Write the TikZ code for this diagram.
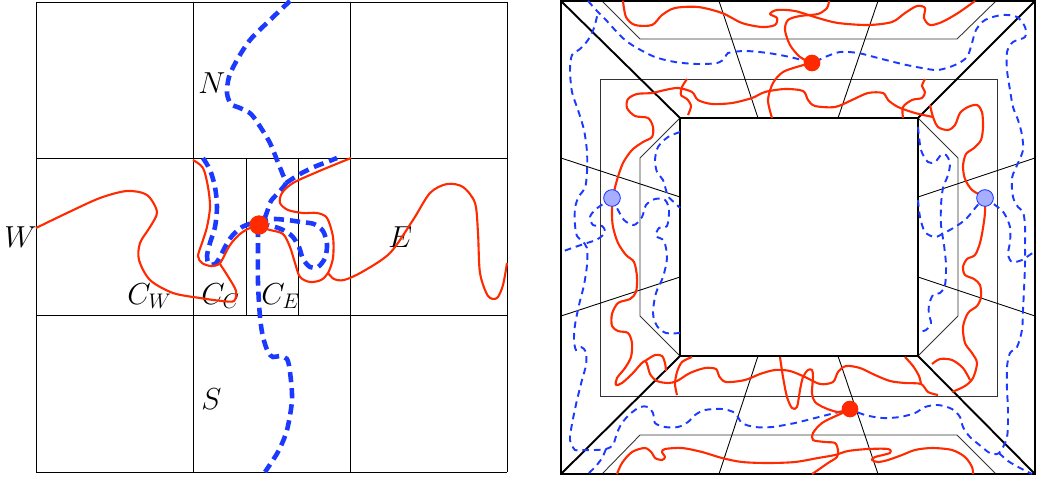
\documentclass[tikz,border=0pt]{standalone}
\usepackage{tikz}
\definecolor{curvered}{RGB}{255,42,0}
\definecolor{curveblue}{RGB}{28,58,255}
\definecolor{dotblue}{RGB}{168,174,255}

\begin{document}
\begin{tikzpicture}[
  x=0.02cm, y=-0.02cm,
  font=\fontsize{17.28}{20}\selectfont,
  cellline/.style={draw=black, line width=0.5pt},
  frame/.style={draw=black, line width=1.4pt},
  wall/.style={draw=black, line width=1.1pt},
  fineline/.style={draw=black!80, line width=0.5pt},
  redpath/.style={draw=curvered, line width=1.2pt, line join=round},
  bluepath/.style={draw=curveblue, line width=2.6pt, dash pattern=on 5.8pt off 3.4pt},
  bluefine/.style={draw=curveblue, line width=1.1pt, dash pattern=on 3.8pt off 2.8pt},
  pinred/.style={circle, fill=curvered, inner sep=0pt, minimum size=11pt},
  pinredsmall/.style={circle, fill=curvered, inner sep=0pt, minimum size=9.5pt},
  pinblue/.style={circle, draw=curveblue, fill=dotblue, line width=0.5pt, inner sep=0pt, minimum size=9.5pt},
  letter/.style={anchor=base west, inner sep=0pt}
]
\useasboundingbox (0,0) rectangle (1038,477);

% left panel: cells
\foreach \x in {36,193,350,507} \draw[cellline] (\x,2) -- (\x,472);
\foreach \y in {2,158,315,472} \draw[cellline] (36,\y) -- (507,\y);
\foreach \x in {246,298} \draw[cellline] (\x,158) -- (\x,315);

\node[letter] (labN) at (198,93) {$N$};
\node[letter] (labS) at (201,409) {$S$};
\node[letter] (labW) at (4,247) {$W$};
\node[letter] (labE) at (388,247) {$E$};
\node[letter] (labCW) at (127,304) {$C_W$};
\node[letter] (labCC) at (201,304) {$C_C$};
\node[letter] (labCE) at (261,304) {$C_E$};

% left panel: dashed paths
\draw[bluepath] plot[smooth] coordinates {(290,1) (270,20) (250,40) (237,60) (229,77) (227,93) (231,104) (240,108) (251,114) (261,128) (270,143) (277,160) (283,175) (286,183) (279,192) (271,201) (267,212) (264,219) (258,223)};
\draw[bluepath] plot[smooth] coordinates {(286,183) (300,174) (314,167) (327,162) (337,158)};
\draw[bluepath] plot[smooth] coordinates {(203,158) (210,170) (215,187) (217,207) (215,227) (210,243) (207,256) (209,264) (215,264) (220,257) (225,247) (232,236) (242,227) (258,221)};
\draw[bluepath] plot[smooth] coordinates {(258,222) (272,219) (287,220) (301,222) (314,224) (323,231) (327,244) (325,258) (318,267) (310,267) (303,259) (299,247) (292,236) (281,229) (268,225)};
\draw[bluepath] plot[smooth] coordinates {(258,227) (258,250) (258,283) (260,317) (263,337) (268,352) (273,357) (280,356) (287,359) (290,372) (292,400) (287,430) (279,450) (271,463) (265,472)};

% left panel: solid paths
\draw[redpath] plot[smooth] coordinates {(36,228) (67,213) (100,198) (127,191) (147,195) (157,212) (150,227) (140,243) (139,260) (150,280) (173,293) (200,298) (222,301) (234,301) (236,291) (229,278) (220,264)};
\draw[redpath] plot[smooth] coordinates {(193,160) (203,168) (208,187) (210,207) (207,227) (202,243) (198,256) (202,263) (211,266) (220,263) (230,245) (240,234) (250,228) (259,227)};
\draw[redpath] plot[smooth] coordinates {(259,227) (270,230) (283,234) (290,247) (295,263) (300,277) (310,282) (321,280) (328,273) (333,258) (333,237) (327,218) (317,213) (303,213) (288,210) (280,203) (282,193) (293,183) (317,172) (351,158)};
\draw[redpath] plot[smooth] coordinates {(328,273) (334,279) (344,280) (362,272) (390,253) (413,220) (430,193) (447,184) (463,187) (475,203) (478,233) (480,273) (488,296) (497,298) (503,285) (507,263)};

\node[pinred] (hub) at (259,225) {};

% right panel: frame
\coordinate (outNW) at (561,1);
\coordinate (outNE) at (1035,1);
\coordinate (outSW) at (561,474);
\coordinate (outSE) at (1035,474);
\coordinate (inNW) at (680,118);
\coordinate (inNE) at (918,118);
\coordinate (inSW) at (680,356);
\coordinate (inSE) at (918,356);

\draw[fineline] (600,79) rectangle (997,396);
\draw[fineline] (602,1) -- (640,39) -- (957,39) -- (996,1);
\draw[fineline] (602,474) -- (640,435) -- (957,435) -- (996,474);
\draw[fineline] (inNW) -- (640,158) -- (640,316) -- (inSW);
\draw[fineline] (inNE) -- (958,158) -- (958,316) -- (inSE);
\draw[cellline] (719,1) -- (758,118);
\draw[cellline] (878,1) -- (838,118);
\draw[cellline] (758,356) -- (719,474);
\draw[cellline] (838,356) -- (878,474);
\draw[cellline] (561,158) -- (680,197);
\draw[cellline] (561,316) -- (680,277);
\draw[cellline] (918,197) -- (1035,158);
\draw[cellline] (918,277) -- (1035,316);
\draw[wall] (outNW) -- (inNW);
\draw[wall] (outNE) -- (inNE);
\draw[wall] (outSW) -- (inSW);
\draw[wall] (outSE) -- (inSE);
\draw[frame] (outNW) rectangle (outSE);
\draw[frame] (inNW) rectangle (inSE);

% right panel: dashed paths
\draw[bluefine] plot[smooth] coordinates {(588,1) (598,12) (606,20) (615,30) (625,40) (637,48) (655,57) (675,62) (697,64) (717,63) (725,58) (728,53) (745,51) (768,53) (790,57) (812,62) (825,57) (840,52) (858,53) (878,58) (902,64) (922,68) (938,70) (955,65) (967,57) (972,43) (976,30) (985,20) (1002,15) (1017,17) (1025,27) (1025,37) (1013,42) (1007,52) (1007,70) (1010,90) (1013,107) (1018,120) (1022,135) (1023,150) (1018,163) (1012,178) (1013,197) (1018,207) (1023,212) (1025,225) (1025,245) (1025,265) (1024,290) (1023,310) (1022,330) (1017,347) (1010,353) (1007,367) (1007,390) (1008,410) (1007,437) (999,453) (990,453) (982,447) (970,437) (963,427) (960,417) (952,409) (938,405) (925,407) (915,413) (900,417) (882,418) (865,415) (850,410) (835,413) (815,418) (795,423) (772,427) (755,427) (742,423) (735,413) (722,409) (705,410) (695,415) (688,422) (678,427) (665,427) (655,423) (653,413) (648,407) (640,407) (630,414) (622,423) (617,433) (613,445) (606,449) (595,450) (582,450) (575,450) (570,440) (572,424) (577,400) (582,380) (586,365) (586,352) (581,347) (576,350) (574,340) (575,325) (579,305) (584,285) (587,265) (587,248) (582,241) (577,236) (575,225) (575,208) (579,196) (585,188) (587,172) (587,152) (584,130) (578,110) (572,92) (570,70) (572,55) (580,49) (588,40) (594,28) (598,12)};
\draw[bluefine] plot[smooth] coordinates {(612,198) (603,204) (595,210) (590,217) (593,225) (602,226) (605,231) (602,236) (596,240) (587,243) (575,247) (561,252)};
\draw[bluefine] plot[smooth] coordinates {(680,132) (668,137) (658,147) (655,160) (657,172) (663,180) (668,196) (675,203) (680,208)};
\draw[bluefine] plot[smooth] coordinates {(612,198) (617,208) (624,220) (634,225) (642,217) (646,205) (655,199) (665,200) (669,210) (667,226) (659,228) (656,236) (664,241) (667,258) (663,277) (656,293) (653,313) (657,326) (666,333) (680,333)};
\draw[bluefine] plot[smooth] coordinates {(918,127) (921,150) (928,162) (935,162) (941,155) (946,155) (950,163) (948,175) (943,188) (941,205) (941,225) (944,245) (946,265) (945,285) (940,293) (933,295) (929,305) (929,315) (931,323) (926,330) (918,332)};
\draw[bluefine] plot[smooth] coordinates {(918,200) (920,217) (925,232) (935,237) (944,233) (955,227) (966,219) (976,207) (984,198)};
\draw[bluefine] plot[smooth] coordinates {(984,198) (995,205) (1004,213) (1010,227) (1010,242) (1008,254) (1012,262) (1022,260) (1031,254) (1035,252)};
\draw[bluefine] plot[smooth] coordinates {(606,449) (602,458) (596,466) (588,474)};
\draw[bluefine] plot[smooth] coordinates {(999,453) (1008,461) (1020,468) (1032,474)};

% right panel: solid paths
\draw[redpath] plot[smooth] coordinates {(623,1) (626,17) (635,25) (652,25) (662,15) (675,8) (698,7) (722,13) (742,23) (762,27) (775,25) (777,18) (770,14) (777,10) (795,11) (818,18) (838,23) (868,25) (892,22) (905,13) (917,6) (925,8) (924,18) (930,25) (942,22) (958,13) (975,1)};
\draw[redpath] plot[smooth] coordinates {(812,63) (800,57) (790,45) (785,30) (788,20) (800,16) (818,14) (827,8) (829,1)};
\draw[redpath] plot[smooth] coordinates {(812,63) (800,66) (783,72) (773,83) (768,100) (772,118)};
\draw[redpath] plot[smooth] coordinates {(933,117) (915,113) (898,107) (888,100) (883,93) (868,93) (852,100) (835,107) (815,106) (808,100) (803,91) (785,89) (765,92) (752,98) (732,103) (712,104) (698,100) (692,92) (678,88) (665,90) (652,93) (637,94) (628,99) (627,108) (635,116) (648,118) (653,127) (652,137) (643,142) (632,150) (623,163) (617,180) (613,197) (612,213) (613,227) (618,243) (626,255) (634,262) (637,277) (636,292) (630,299) (618,303) (612,314) (612,326) (618,331) (628,333) (632,343) (631,357) (625,368) (617,378) (616,385) (622,383) (632,374) (645,361) (650,374) (657,381) (668,383) (677,381) (690,373) (705,368) (716,369) (719,376) (726,382) (745,380) (760,374) (775,370) (790,371) (805,377) (820,384) (833,382) (838,372) (846,366) (860,368) (875,375) (890,381) (905,383) (921,384) (928,392) (938,395)};
\draw[redpath] plot[smooth] coordinates {(645,361) (655,355) (662,356) (665,363) (666,371)};
\draw[redpath] plot[smooth] coordinates {(930,105) (933,117) (938,127) (948,130) (955,125) (960,113) (968,107) (977,105) (982,112) (983,127) (981,140) (974,148) (966,154) (963,166) (965,179) (972,190) (984,198) (985,212) (983,228) (980,243) (975,255) (967,259) (963,267) (965,275) (974,279) (980,285) (981,297) (977,306) (968,313) (963,327) (965,343) (972,353) (977,363) (973,378) (965,386) (952,392)};
\draw[redpath] plot[smooth] coordinates {(932,364) (940,359) (952,360) (963,368) (970,380)};
\draw[redpath] plot[smooth] coordinates {(905,357) (913,366) (919,376) (921,384)};
\draw[redpath] plot[smooth] coordinates {(687,79) (682,87) (681,95) (687,99) (691,106) (688,115)};
\draw[redpath] plot[smooth] coordinates {(925,79) (922,86) (925,92) (922,98) (912,100) (903,107) (903,118)};
\draw[redpath] plot[smooth] coordinates {(780,357) (783,377) (787,397) (792,408) (797,407) (800,390) (803,377) (808,370) (812,370) (813,377) (812,393) (815,402) (825,408) (838,412) (850,410)};
\draw[redpath] plot[smooth] coordinates {(692,357) (682,362) (677,372) (675,384) (677,395)};
\draw[redpath] plot[smooth] coordinates {(617,474) (622,463) (632,452) (645,448) (652,453) (655,458) (662,460) (665,457) (662,452) (665,449) (682,448) (702,452) (722,458) (742,462) (768,463) (795,462) (818,458) (835,455) (848,451) (868,449) (888,449) (890,453) (875,457) (872,460) (878,462) (888,460) (902,455) (915,450) (932,448) (952,450) (965,457) (972,467) (973,474)};
\draw[redpath] plot[smooth] coordinates {(850,410) (838,415) (822,423) (813,433) (813,440) (825,442) (835,443) (838,450) (837,457) (828,463) (818,470) (812,474)};

\node[pinredsmall] (pinTop) at (812,63) {};
\node[pinredsmall] (pinBot) at (850,409) {};
\node[pinblue] (pinW) at (612,198) {};
\node[pinblue] (pinE) at (985,198) {};
\end{tikzpicture}
\end{document}
